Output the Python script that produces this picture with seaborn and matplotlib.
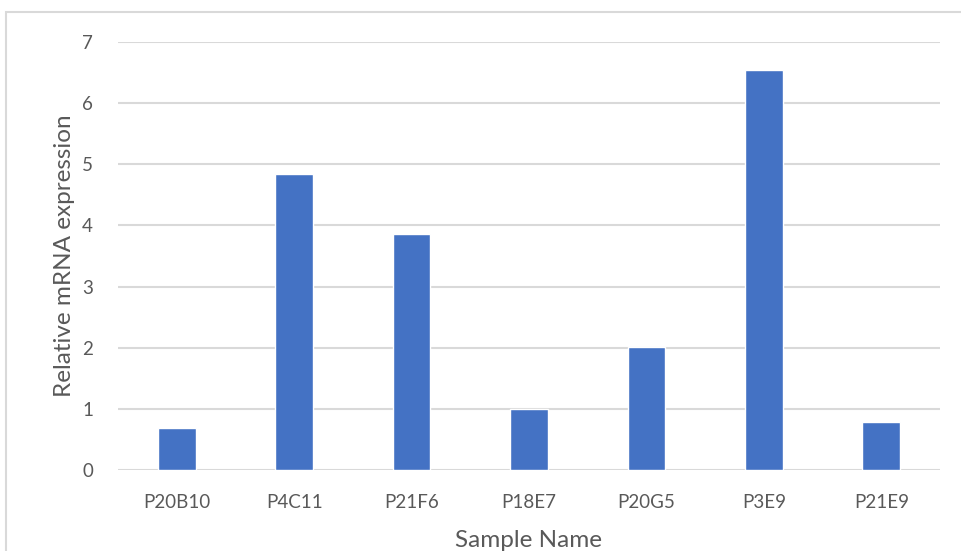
import pandas as pd
import seaborn as sns
import matplotlib.pyplot as plt
from matplotlib.patches import Rectangle

# values
samples = ['P20B10', 'P4C11', 'P21F6', 'P18E7', 'P20G5', 'P3E9', 'P21E9']
expression = [0.68, 4.84, 3.86, 1.00, 2.01, 6.54, 0.78]
y_ticks = [0, 1, 2, 3, 4, 5, 6, 7]

df = pd.DataFrame({'Sample Name': samples, 'Relative mRNA expression': expression})

sns.set_theme(style='white')
plt.rcParams['font.family'] = ['Lato', 'DejaVu Sans']

fig = plt.figure(figsize=(9.62, 5.51), dpi=100)
ax = fig.add_axes([118 / 962, 1 - 470 / 551, (940 - 118) / 962, (470 - 42) / 551])

sns.barplot(data=df, x='Sample Name', y='Relative mRNA expression',
            color='#4472c4', saturation=1, width=0.32, ax=ax, zorder=3)

ax.set_ylim(0, 7)
ax.set_yticks(y_ticks)
ax.set_xlim(-0.5, len(samples) - 0.5)
ax.grid(axis='y', color='#d9d9d9', linewidth=1.5, zorder=0)
for s in ax.spines.values():
    s.set_visible(False)
ax.tick_params(axis='both', length=0, labelsize=13.5, labelcolor='#595959')
ax.tick_params(axis='x', pad=17)
ax.tick_params(axis='y', pad=18)
ax.set_xlabel('Sample Name', fontsize=17.5, color='#595959', labelpad=14)
ax.set_ylabel('Relative mRNA expression', fontsize=17.5, color='#595959', labelpad=5)

# chart frame (top and left edges visible in the crop)
fig.patches.append(Rectangle((5.5 / 962, -0.1), 1.2, 1 - 12 / 551 + 0.1,
                             transform=fig.transFigure, fill=False,
                             edgecolor='#d9d9d9', linewidth=1.5, zorder=0))

fig.savefig('out.png', dpi=100, facecolor='white')
